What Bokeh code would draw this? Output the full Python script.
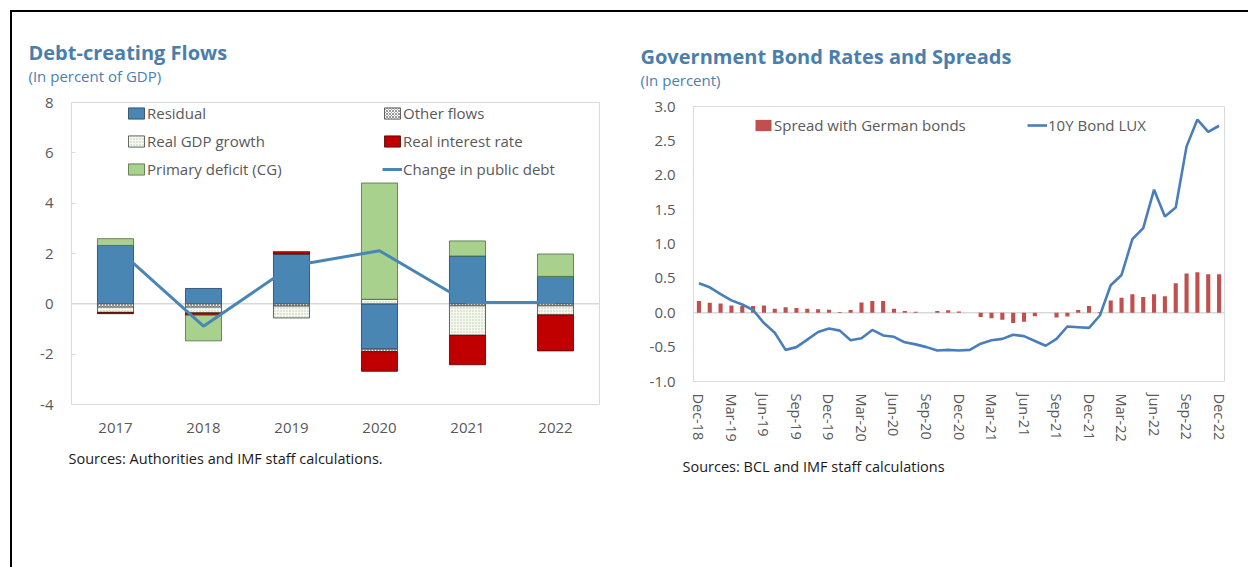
import numpy as np
from bokeh.plotting import figure
from bokeh.models import (Range1d, Span, Legend, LegendItem, FixedTicker,
                          ColumnDataSource, FactorRange, Title)
from bokeh.layouts import row
from bokeh.embed import file_html
from bokeh.resources import INLINE

# ---------------- Left chart data ----------------
years = ["2017", "2018", "2019", "2020", "2021", "2022"]
residual = [2.32, 0.61, 1.98, -1.80, 1.90, 1.09]
other_flows = [-0.13, -0.13, -0.09, -0.10, -0.08, -0.08]
real_gdp_growth = [-0.21, -0.23, -0.47, 0.18, -1.17, -0.36]
real_interest_rate = [-0.05, -0.09, 0.10, -0.78, -1.17, -1.43]
primary_deficit = [0.27, -1.02, 0.00, 4.62, 0.60, 0.89]
change_in_public_debt = [2.25, -0.89, 1.50, 2.11, 0.05, 0.05]
left_yticks = [-4, -2, 0, 2, 4, 6, 8]

# ---------------- Right chart data ----------------
month_names = ["Jan", "Feb", "Mar", "Apr", "May", "Jun",
               "Jul", "Aug", "Sep", "Oct", "Nov", "Dec"]
months = ["Dec-18"] + [f"{m}-{y}" for y in ("19", "20", "21", "22") for m in month_names]
spread_german = [0.17, 0.145, 0.135, 0.105, 0.10, 0.10, 0.105, 0.06, 0.08, 0.07,
                 0.06, 0.05, 0.045, 0.01, 0.04, 0.15, 0.17, 0.17, 0.06, 0.025,
                 0.015, 0.0, 0.025, 0.035, 0.02, 0.0, -0.06, -0.08, -0.10, -0.15,
                 -0.13, -0.05, 0.0, -0.07, -0.055, 0.04, 0.10, 0.01, 0.18, 0.22,
                 0.27, 0.23, 0.27, 0.24, 0.43, 0.57, 0.59, 0.56, 0.56]
bond_10y_lux = [0.43, 0.37, 0.27, 0.18, 0.12, 0.04, -0.15, -0.29, -0.54, -0.50,
                -0.39, -0.28, -0.23, -0.26, -0.40, -0.37, -0.25, -0.33, -0.35, -0.43,
                -0.46, -0.50, -0.55, -0.54, -0.55, -0.54, -0.45, -0.40, -0.38, -0.32,
                -0.34, -0.41, -0.48, -0.38, -0.20, -0.21, -0.22, -0.04, 0.40, 0.55,
                1.07, 1.23, 1.79, 1.40, 1.53, 2.42, 2.81, 2.63, 2.72]
right_tick_labels = ["Dec-18", "Mar-19", "Jun-19", "Sep-19", "Dec-19", "Mar-20",
                     "Jun-20", "Sep-20", "Dec-20", "Mar-21", "Jun-21", "Sep-21",
                     "Dec-21", "Mar-22", "Jun-22", "Sep-22", "Dec-22"]
right_yticks = [-1.0, -0.5, 0.0, 0.5, 1.0, 1.5, 2.0, 2.5, 3.0]

FONT = "Open Sans"
TITLE_COLOR = "#4A7FAD"
TICK_COLOR = "#595959"
FRAME_COLOR = "#D9D9D9"

def base_fig(width, height, x_range, y_range, bl, br):
    p = figure(width=width, height=height, x_range=x_range, y_range=y_range,
               output_backend="svg", toolbar_location=None,
               min_border_left=bl, min_border_right=br,
               min_border_top=90, min_border_bottom=163)
    p.outline_line_color = FRAME_COLOR
    p.outline_line_width = 1
    p.xgrid.visible = False
    p.ygrid.visible = False
    p.background_fill_color = "white"
    p.border_fill_color = "white"
    for ax in (p.xaxis[0], p.yaxis[0]):
        ax.axis_line_color = None
        ax.major_label_text_font = FONT
        ax.major_label_text_color = TICK_COLOR
        ax.minor_tick_line_color = None
    return p

def title(p, side, text, size, color, offset, standoff, bold=False):
    p.add_layout(Title(text=text, align="left", offset=offset, standoff=standoff,
                       text_font=FONT, text_font_size=size,
                       text_font_style="bold" if bold else "normal",
                       text_color=color), side)

# ================= LEFT =================
p1 = base_fig(612, 555, FactorRange(*years, range_padding=0), Range1d(-4, 8), 59, 25)
p1.x_range.factor_padding = 0
p1.yaxis.ticker = FixedTicker(ticks=left_yticks)
p1.yaxis.major_label_overrides = {t: str(t) for t in left_yticks}
p1.yaxis.major_label_text_font_size = "15px"
p1.yaxis.major_tick_in = 4
p1.yaxis.major_tick_out = 0
p1.yaxis.major_tick_line_color = FRAME_COLOR
p1.yaxis.major_label_standoff = 18
p1.xaxis.major_tick_line_color = None
p1.xaxis.major_label_text_font_size = "15px"
p1.xaxis.major_label_standoff = 12

p1.add_layout(Span(location=0, dimension="width", line_color=FRAME_COLOR,
                   line_width=1.5, level="underlay"))

series = [
    ("Residual", residual, dict(fill_color="#4A86B4", line_color="#22405A")),
    ("Other flows", other_flows, dict(fill_color="white", hatch_pattern="diagonal_cross",
                                      hatch_color="#7F7F7F", hatch_scale=3, hatch_weight=0.8,
                                      line_color="#404040")),
    ("Real GDP growth", real_gdp_growth, dict(fill_color="#F5F8F0", hatch_pattern="dot",
                                              hatch_color="#B9CBA4", hatch_scale=3,
                                              hatch_weight=0.8, line_color="#404040")),
    ("Real interest rate", real_interest_rate, dict(fill_color="#C00000", line_color="#4A0000")),
    ("Primary deficit (CG)", primary_deficit, dict(fill_color="#A9D18E", line_color="#4F6B3C")),
]
pos = np.zeros(len(years))
neg = np.zeros(len(years))
items = []
for name, vals, style in series:
    v = np.array(vals, dtype=float)
    bottom = np.where(v >= 0, pos, neg)
    top = bottom + v
    pos = np.where(v >= 0, pos + v, pos)
    neg = np.where(v < 0, neg + v, neg)
    src = ColumnDataSource(dict(x=years, bottom=bottom, top=top))
    r = p1.vbar(x="x", bottom="bottom", top="top", width=0.41, source=src,
                line_width=0.8, **style)
    items.append(LegendItem(label=name, renderers=[r]))

rl = p1.line(years, change_in_public_debt, line_color="#4A86B4", line_width=3)
items.append(LegendItem(label="Change in public debt", renderers=[rl]))

leg1 = Legend(items=items, orientation="horizontal", ncols=2, location=(55, 225),
              background_fill_alpha=0, border_line_color=None, padding=0, margin=0,
              spacing=8, glyph_width=20, glyph_height=14, label_height=20,
              label_width=227, label_standoff=1,
              label_text_font=FONT, label_text_font_size="15px", label_text_color=TICK_COLOR)
p1.add_layout(leg1)

title(p1, "above", "(In percent of GDP)", "15px", TITLE_COLOR, -43, 34)
title(p1, "above", "Debt-creating Flows", "20px", TITLE_COLOR, -43, -38, bold=True)
title(p1, "below", "Sources: Authorities and IMF staff calculations.", "14.5px", "#1A1A1A", -3, 22)

# ================= RIGHT =================
idx = list(range(len(months)))
p2 = base_fig(624, 528, Range1d(-0.5, len(months) - 0.5), Range1d(-1, 3), 69, 24)
p2.margin = (4, 0, 0, 0)
p2.yaxis.ticker = FixedTicker(ticks=right_yticks)
p2.yaxis.major_label_overrides = {t: f"{t:.1f}" for t in right_yticks}
p2.yaxis.major_label_text_font_size = "15px"
p2.yaxis.major_tick_line_color = None
p2.yaxis.major_label_standoff = 12
tick_pos = [months.index(m) for m in right_tick_labels]
p2.xaxis.ticker = FixedTicker(ticks=tick_pos)
p2.xaxis.major_label_overrides = {i: m for i, m in zip(tick_pos, right_tick_labels)}
p2.xaxis.major_label_orientation = "vertical"
p2.xaxis.major_tick_line_color = None
p2.xaxis.major_label_text_font_size = "14.5px"
p2.xaxis.major_label_standoff = 6

p2.add_layout(Span(location=0, dimension="width", line_color=FRAME_COLOR,
                   line_width=1.5, level="underlay"))
rb = p2.vbar(x=idx, top=spread_german, bottom=0, width=0.38,
             fill_color="#C0504D", line_color=None)
rline = p2.line(idx, bond_10y_lux, line_color="#4A7EBB", line_width=2.6)

leg2 = Legend(items=[LegendItem(label="Spread with German bonds", renderers=[rb]),
                     LegendItem(label="10Y Bond LUX", renderers=[rline])],
              orientation="horizontal", location=(60, 246),
              background_fill_alpha=0, border_line_color=None, padding=0, margin=0,
              spacing=8, glyph_width=20, glyph_height=14, label_height=20,
              label_width=245, label_standoff=1,
              label_text_font=FONT, label_text_font_size="15px", label_text_color=TICK_COLOR)
p2.add_layout(leg2)

title(p2, "above", "(In percent)", "15px", TITLE_COLOR, -53, 34)
title(p2, "above", "Government Bond Rates and Spreads", "20px", TITLE_COLOR, -53, -38, bold=True)
title(p2, "below", "Sources: BCL and IMF staff calculations", "14.5px", "#1A1A1A", -11, 20)

layout = row(p1, p2, margin=(10, 0, 0, 10),
             styles={"border-top": "2px solid black", "border-left": "2px solid black"})

open("out.html", "w").write(file_html(layout, INLINE))
